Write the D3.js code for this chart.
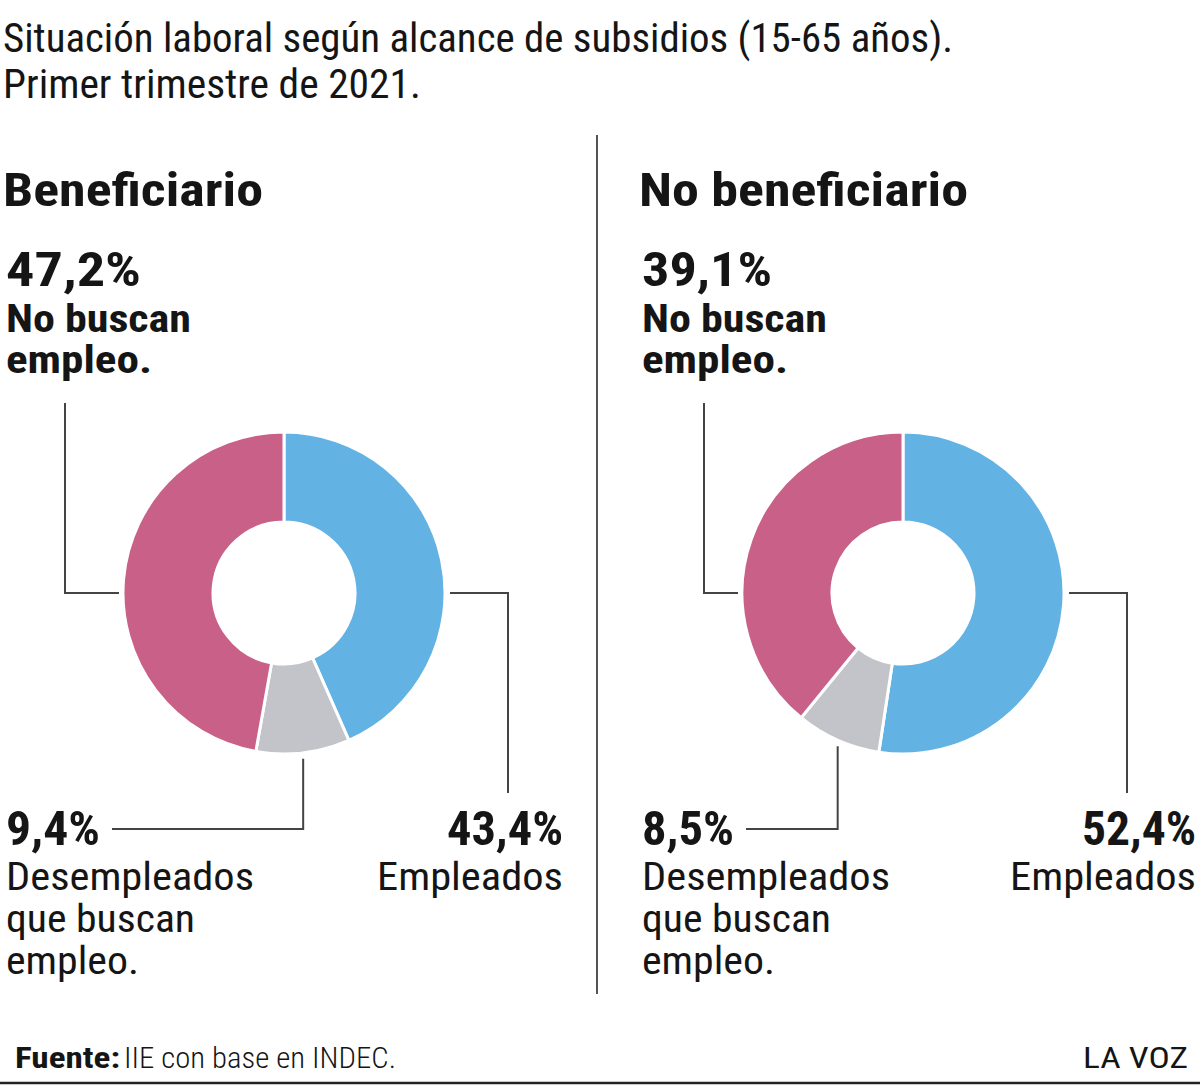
<!DOCTYPE html>
<html>
<head>
<meta charset="utf-8">
<script src="https://cdn.jsdelivr.net/npm/d3@7"></script>
<style>
	body{margin:0;background:#fff;}
	text{font-family:"Roboto Condensed","Liberation Sans Narrow","DejaVu Sans Condensed",Roboto,sans-serif;fill:#151515;}
</style>
</head>
<body>
<script>
// data
var titleLines = ["Situación laboral según alcance de subsidios (15-65 años).", "Primer trimestre de 2021."];
var groups = ["Beneficiario", "No beneficiario"];
var categories = ["Empleados", "Desempleados", "No buscan"];
var categoryLines = [["Empleados"], ["Desempleados", "que buscan", "empleo."], ["No buscan", "empleo."]];
var beneficiario = [43.4, 9.4, 47.2];
var noBeneficiario = [52.4, 8.5, 39.1];
var sourceLabel = "Fuente:";
var sourceText = "IIE con base en INDEC.";
var brand = "LA VOZ";

function main(){

	var w = 1200;
	var h = 1088;
	var cy = 593;
	var outerR = 161;
	var innerR = 71;
	var colors = ["#62b2e4", "#c3c4c9", "#c96087"];
	var lineColor = "#444";

	// widths measured on the reference, used to squeeze the text to the same run length
	var widths = {
		"Situación laboral según alcance de subsidios (15-65 años).": 950,
		"Primer trimestre de 2021.": 418,
		"Beneficiario": 260,
		"No beneficiario": 329,
		"47,2%": 135, "39,1%": 130, "9,4%": 94, "8,5%": 92, "43,4%": 116, "52,4%": 114,
		"No buscan": 185, "empleo.b": 146,
		"Desempleados": 248, "que buscan": 189, "empleo.": 133,
		"Empleados": 186,
		"Fuente:": 105, "IIE con base en INDEC.": 272, "LA VOZ": 105
	};

	var panels = [
		{name: groups[0], values: beneficiario, x0: 5, cx: 284, xr: 563, noBuscanX: 65},
		{name: groups[1], values: noBeneficiario, x0: 641, cx: 903, xr: 1196, noBuscanX: 704}
	];

	var fmt = d3.formatLocale({decimal: ",", thousands: ".", grouping: [3], currency: ["", ""]}).format(".1f");

	var svg = d3.select("body")
				.append("svg")
				.attr("width", w)
				.attr("height", h);

	function addText(g, str, x, y, size, weight, anchor, key){
		var t = g.append("text")
				.attr("x", x)
				.attr("y", y)
				.attr("font-size", size)
				.attr("font-weight", weight)
				.attr("text-anchor", anchor || "start")
				.text(str);
		var wd = widths[key || str];
		if(wd){
			t.attr("textLength", wd).attr("lengthAdjust", "spacingAndGlyphs");
		}
		return t;
	}

	// title
	titleLines.forEach(function(s, i){
		addText(svg, s, 3, 52 + i*46, 40, 400);
	});

	// divider
	svg.append("line")
		.attr("x1", 597).attr("x2", 597)
		.attr("y1", 135).attr("y2", 994)
		.attr("stroke", "#555")
		.attr("stroke-width", 2);

	var pie = d3.pie().sort(null).value(function(d){return d;});
	var arc = d3.arc().innerRadius(innerR).outerRadius(outerR);

	panels.forEach(function(p){
		var g = svg.append("g");
		var arcs = pie(p.values);

		addText(g, p.name, p.x0 - 2, 206, 46, 700);

		// donut
		g.append("g")
			.attr("transform", "translate(" + p.cx + "," + cy + ")")
			.selectAll("path")
			.data(arcs)
			.enter()
			.append("path")
			.attr("d", arc)
			.attr("fill", function(d, i){return colors[i];})
			.attr("stroke", "#fff")
			.attr("stroke-width", 3);

		// No buscan (top left)
		addText(g, fmt(p.values[2]) + "%", p.x0 + 1, 286, 48, 700);
		addText(g, categoryLines[2][0], p.x0 + 1, 332, 38, 700);
		addText(g, categoryLines[2][1], p.x0 + 1, 373, 38, 700, "start", "empleo.b");
		g.append("path")
			.attr("d", d3.line()([[p.noBuscanX, 403], [p.noBuscanX, cy], [p.cx - outerR - 4, cy]]))
			.attr("fill", "none")
			.attr("stroke", lineColor)
			.attr("stroke-width", 2);

		// Empleados (bottom right)
		addText(g, fmt(p.values[0]) + "%", p.xr, 845, 48, 700, "end");
		addText(g, categoryLines[0][0], p.xr, 890, 39, 400, "end");
		g.append("path")
			.attr("d", d3.line()([[p.cx + outerR + 5, cy], [p.cx + 224, cy], [p.cx + 224, 793]]))
			.attr("fill", "none")
			.attr("stroke", lineColor)
			.attr("stroke-width", 2);

		// Desempleados (bottom left)
		addText(g, fmt(p.values[1]) + "%", p.x0 + 1, 845, 48, 700);
		categoryLines[1].forEach(function(s, i){
			addText(g, s, p.x0 + 1, 890 + i*42, 39, 400);
		});
		var mid = (arcs[1].startAngle + arcs[1].endAngle)/2;
		var lx = p.cx + Math.sin(mid)*outerR;
		var ly = cy - Math.cos(mid)*outerR + 6;
		var tx = p.x0 + 1 + widths[fmt(p.values[1]) + "%"] + 12;
		g.append("path")
			.attr("d", d3.line()([[lx, ly], [lx, 829], [tx, 829]]))
			.attr("fill", "none")
			.attr("stroke", lineColor)
			.attr("stroke-width", 2);
	});

	// footer
	addText(svg, sourceLabel, 15, 1068, 30, 700);
	addText(svg, sourceText, 124, 1068, 30, 300);
	addText(svg, brand, 1188, 1068, 30, 400, "end");

	svg.append("line")
		.attr("x1", 0).attr("x2", w)
		.attr("y1", 1083).attr("y2", 1083)
		.attr("stroke", "#222")
		.attr("stroke-width", 2.5);
}

main();
</script>
</body>
</html>
